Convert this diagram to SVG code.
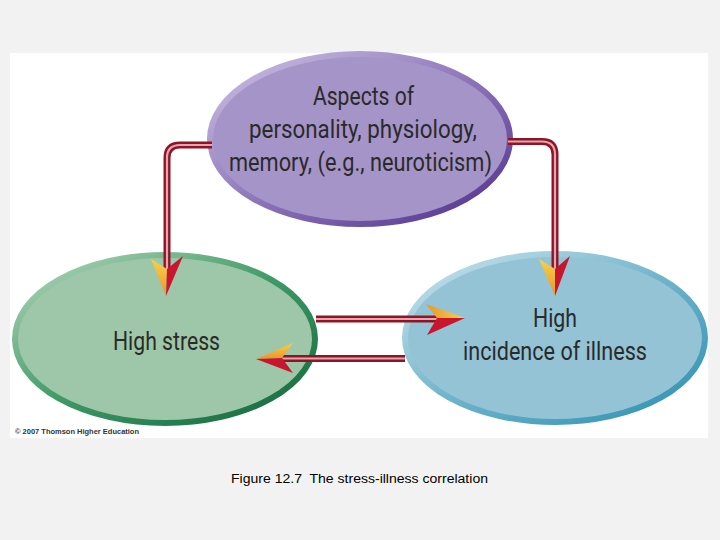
<svg xmlns="http://www.w3.org/2000/svg" width="720" height="540" viewBox="0 0 720 540">
<defs>
<linearGradient id="gp" x1="0" y1="0" x2="1" y2="1"><stop offset="0" stop-color="#cfc4e4"/><stop offset="0.5" stop-color="#8e76bb"/><stop offset="1" stop-color="#4e2f8a"/></linearGradient>
<linearGradient id="gg" x1="0" y1="0" x2="1" y2="1"><stop offset="0" stop-color="#b7d9bf"/><stop offset="0.5" stop-color="#3f9a66"/><stop offset="1" stop-color="#11653a"/></linearGradient>
<linearGradient id="gb" x1="0" y1="0" x2="1" y2="1"><stop offset="0" stop-color="#cfe6ee"/><stop offset="0.5" stop-color="#6fb4cb"/><stop offset="1" stop-color="#2a8fb0"/></linearGradient>
<linearGradient id="yel" x1="0" y1="0" x2="0" y2="1"><stop offset="0" stop-color="#f7d24a"/><stop offset="1" stop-color="#e8962a"/></linearGradient>
<linearGradient id="yelh" x1="0" y1="0" x2="1" y2="0"><stop offset="0" stop-color="#e8962a"/><stop offset="1" stop-color="#f7d24a"/></linearGradient>
<style>
.lbl{font-family:Roboto,"Open Sans",sans-serif;font-size:25px;fill:#2a2a2a}
.cap{font-family:"Liberation Sans",Arial,sans-serif;font-size:12.5px;fill:#000}
.copy{font-family:"Liberation Sans",Arial,sans-serif;font-size:7.5px;font-weight:bold;fill:#333}
.outer{fill:none;stroke:#8b1628;stroke-width:7;stroke-linejoin:round}
.inner{fill:none;stroke:#e9a3ad;stroke-width:2.2;stroke-linejoin:round}
.red{fill:#c8162e}
</style>
</defs>
<rect width="720" height="540" fill="#f2f2f2"/>
<rect x="10" y="53" width="698" height="385" fill="#ffffff"/>
<g id="purple">
<ellipse cx="360" cy="139" rx="150" ry="85" fill="#a594c8" stroke="url(#gp)" stroke-width="6"/>
<text class="lbl" x="313" y="105" textLength="101" lengthAdjust="spacingAndGlyphs">Aspects of</text>
<text class="lbl" x="249" y="138" textLength="228" lengthAdjust="spacingAndGlyphs">personality, physiology,</text>
<text class="lbl" x="229" y="171" textLength="263" lengthAdjust="spacingAndGlyphs">memory, (e.g., neuroticism)</text>
</g>
<g id="green">
<ellipse cx="165" cy="339" rx="150" ry="84" fill="#9ec6a8" stroke="url(#gg)" stroke-width="6"/>
<text class="lbl" x="113" y="350" textLength="107" lengthAdjust="spacingAndGlyphs">High stress</text>
</g>
<g id="blue">
<ellipse cx="555" cy="338" rx="150" ry="84" fill="#93c3d5" stroke="url(#gb)" stroke-width="6"/>
<text class="lbl" x="533" y="327" textLength="44" lengthAdjust="spacingAndGlyphs">High</text>
<text class="lbl" x="463" y="360" textLength="184" lengthAdjust="spacingAndGlyphs">incidence of illness</text>
</g>
<g id="connectors">
<path class="outer" d="M212 145 H180 Q167 145 167 158 V282"/>
<path class="inner" d="M212 145 H180 Q167 145 167 158 V282"/>
<path class="outer" d="M508 141.5 H542 Q555 141.5 555 154.5 V282"/>
<path class="inner" d="M508 141.5 H542 Q555 141.5 555 154.5 V282"/>
<path class="outer" d="M316 319 H445"/>
<path class="inner" d="M316 319 H445"/>
<path class="outer" d="M405 358.5 H278"/>
<path class="inner" d="M405 358.5 H278"/>
<polygon points="151,259 167,269 166,296" fill="url(#yel)"/>
<polygon points="167,269 183,256 166,296" class="red"/>
<polygon points="539,259 555,269 555,296" fill="url(#yel)"/>
<polygon points="555,269 570,256 555,296" class="red"/>
<polygon points="426,304 437,318 465,318" fill="url(#yelh)"/>
<polygon points="437,318 465,318 427,335" class="red"/>
<polygon points="293,343 282,358 256,359" fill="url(#yel)"/>
<polygon points="282,358 256,359 293,373" class="red"/>
</g>
<text class="copy" x="15" y="434" textLength="124" lengthAdjust="spacingAndGlyphs">© 2007 Thomson Higher Education</text>
<text class="cap" x="231" y="483" textLength="257" lengthAdjust="spacingAndGlyphs" xml:space="preserve">Figure 12.7  The stress-illness correlation</text>
</svg>
